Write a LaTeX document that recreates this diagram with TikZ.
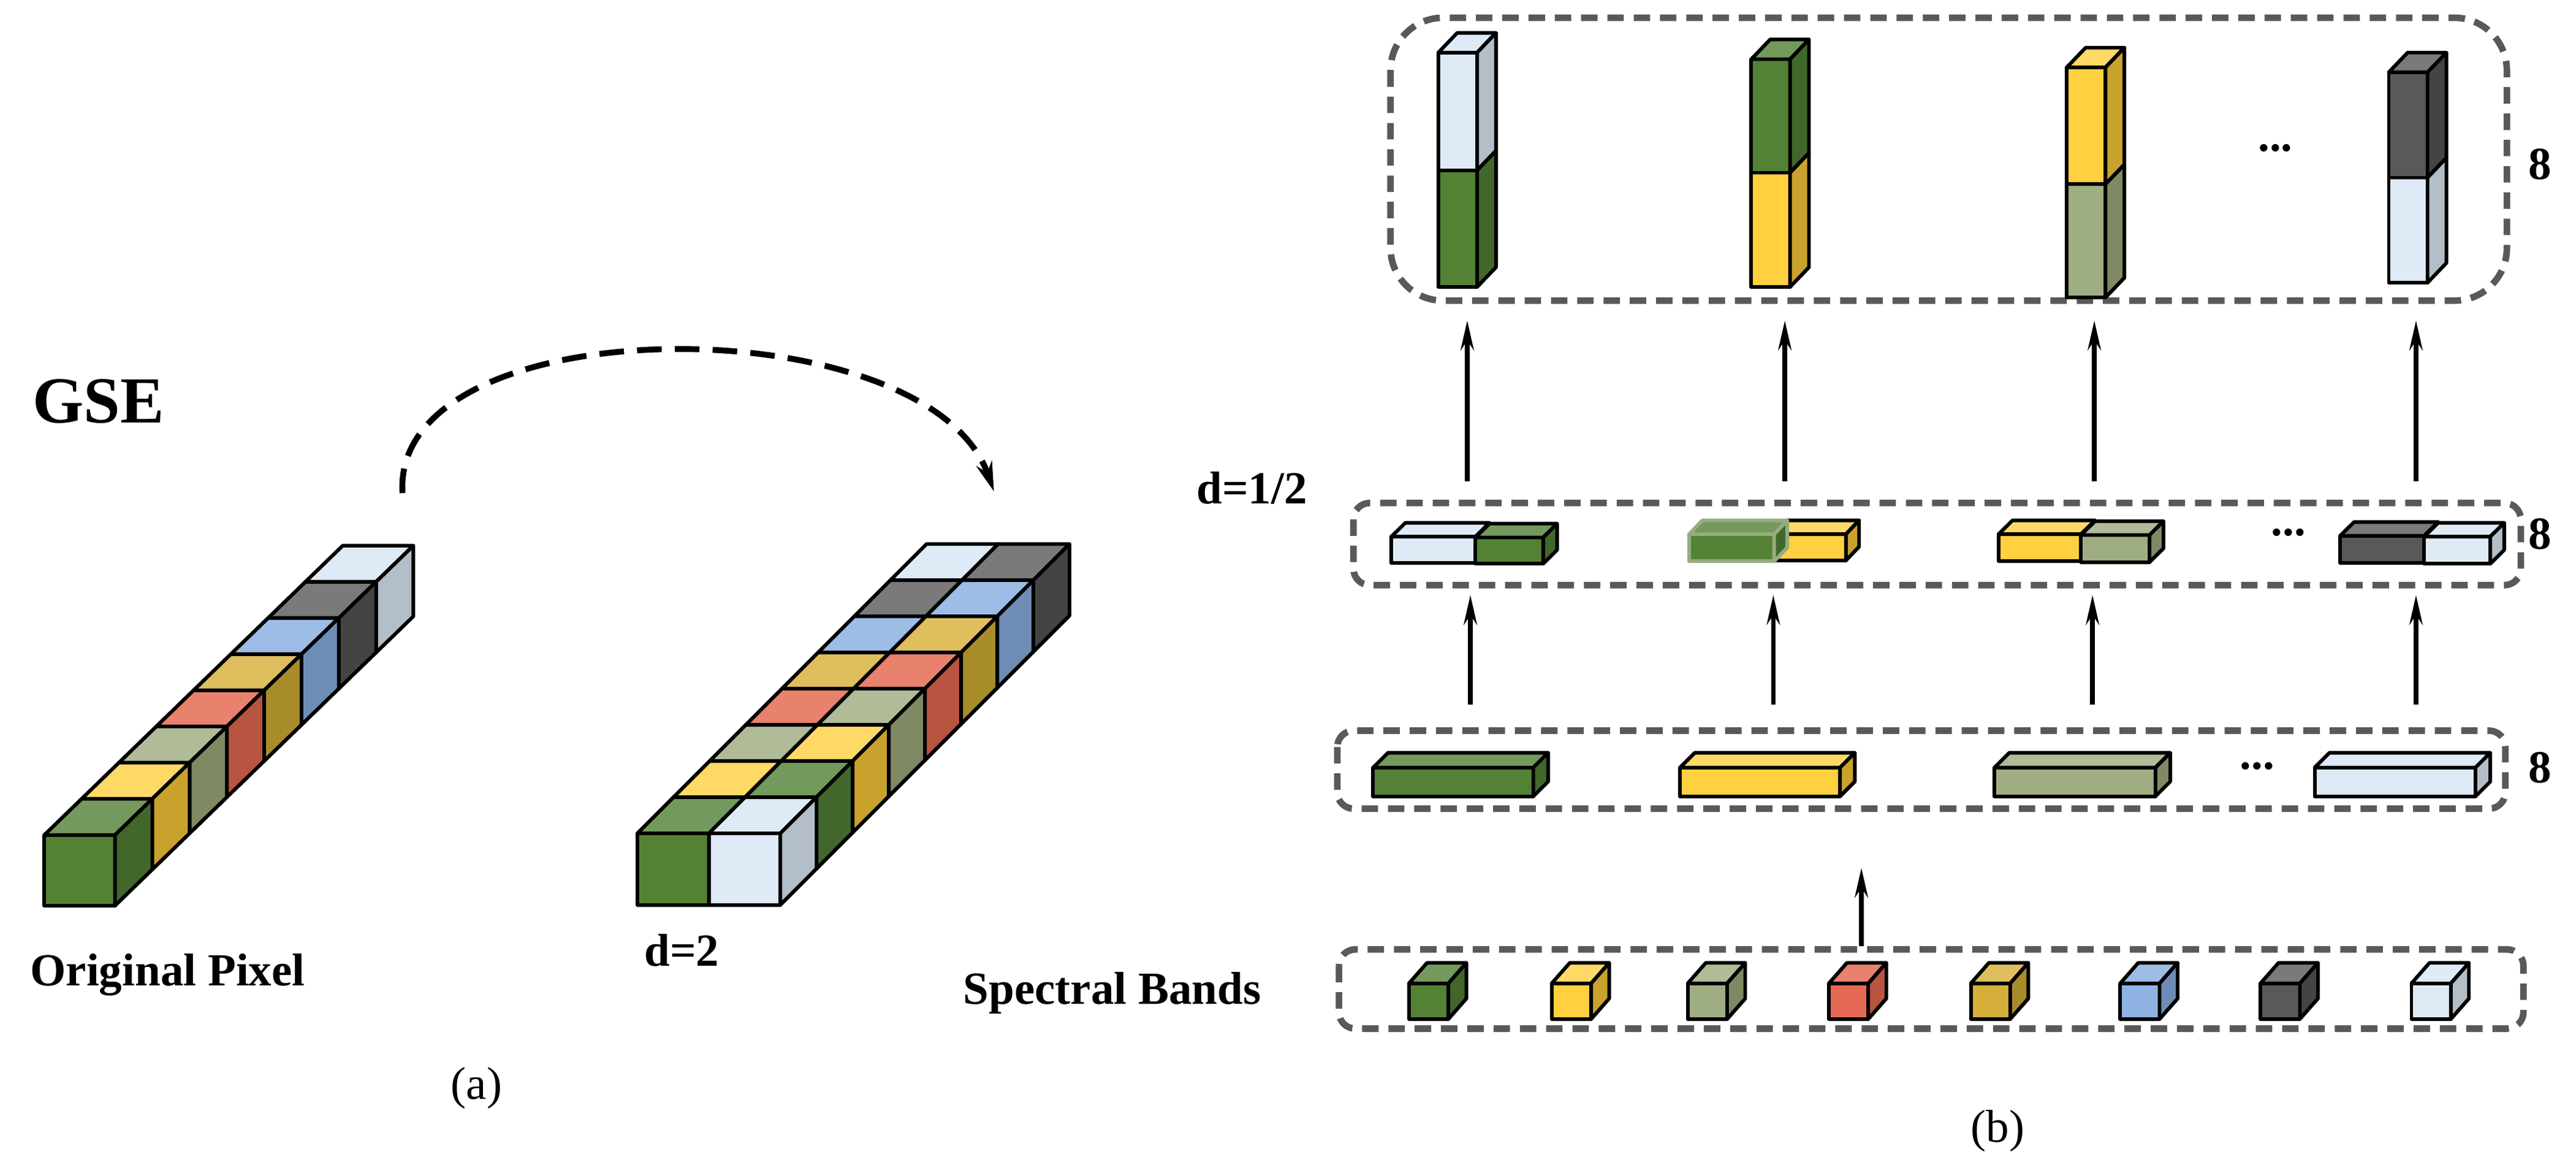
\documentclass[tikz,border=0pt]{standalone}
\usepackage{fontspec}
\setmainfont{Liberation Serif}
\usetikzlibrary{arrows.meta}
\definecolor{gF}{HTML}{548235}\definecolor{gT}{HTML}{739A5C}\definecolor{gS}{HTML}{41672A}
\definecolor{yF}{HTML}{FFD040}\definecolor{yT}{HTML}{FFD966}\definecolor{yS}{HTML}{C9A22E}
\definecolor{sF}{HTML}{9FAE82}\definecolor{sT}{HTML}{B0BC98}\definecolor{sS}{HTML}{7F8A64}
\definecolor{rF}{HTML}{E46A55}\definecolor{rT}{HTML}{E8826C}\definecolor{rS}{HTML}{B85440}
\definecolor{oF}{HTML}{D4B03A}\definecolor{oT}{HTML}{DFBE5E}\definecolor{oS}{HTML}{A88C2A}
\definecolor{bF}{HTML}{8FB3E3}\definecolor{bT}{HTML}{9DBDE6}\definecolor{bS}{HTML}{6E8DB5}
\definecolor{kF}{HTML}{595959}\definecolor{kT}{HTML}{7A7A7A}\definecolor{kS}{HTML}{444444}
\definecolor{lF}{HTML}{DEEBF7}\definecolor{lT}{HTML}{DEEBF7}\definecolor{lS}{HTML}{B4BEC8}
\definecolor{dashc}{HTML}{595959}
% x,y (front top-left), w, h, dx, dy, colour prefix
\newcommand\mycube[7]{%
  \filldraw[fill=#7F] (#1,#2) rectangle ++(#3,#4);
  \filldraw[fill=#7T] (#1,#2) -- ++(#5,-#6) -- ++(#3,0) -- ++(-#5,#6) -- cycle;
  \filldraw[fill=#7S] ({#1+#3},#2) -- ++(#5,-#6) -- ++(0,#4) -- ++(-#5,#6) -- cycle;}
\tikzset{
  cube/.style={line width=2.2pt,line join=round},
  grp/.style={draw=dashc,line width=4pt,dash pattern=on 10pt off 6pt},
  lab/.style={font=\bfseries\fontsize{28}{30}\selectfont,inner sep=0pt},
  up/.style={line width=2.8pt,-{Stealth[length=18pt,width=8pt]}},
}
\begin{document}
\begin{tikzpicture}[x=1pt,y=-1pt]
\useasboundingbox (0,0) rectangle (1568,706.6);
% ---------- (a) ----------
\node[lab,font=\bfseries\fontsize{40}{42}\selectfont] (gse) at (60,244) {GSE};
\begin{scope}[cube]
\foreach \k/\c in {7/l,6/k,5/b,4/o,3/r,2/s,1/y,0/g}{
  \mycube{27+22.7*\k}{508-22*\k}{43}{43}{22.7}{22}{\c}}
\foreach \k/\a/\b in {7/l/k,6/k/b,5/b/o,4/o/r,3/r/s,2/s/y,1/y/g,0/g/l}{
  \mycube{388+22*\k}{507-22*\k}{43.5}{43.5}{22}{22}{\a}
  \mycube{431.5+22*\k}{507-22*\k}{43.5}{43.5}{22}{22}{\b}}
\end{scope}
\coordinate (arcA) at (245,300);
\coordinate (arcB) at (605,299);
\draw[line width=3.6pt,dash pattern=on 15pt off 8pt,-{Stealth[length=18pt,width=10pt]}] (arcA) .. controls (238,185) and (565,185) .. (arcB);
\node[lab] (op) at (102,593) {Original Pixel};
\node[lab] (d2) at (415,578) {d=2};
\node[inner sep=0pt,font=\fontsize{28}{30}\selectfont] (la) at (290,662) {(a)};
% ---------- (b) ----------
\draw[grp,rounded corners=32pt] (846.4,10.8) rectangle (1525.9,182.9);
\draw[grp,rounded corners=10pt] (823.8,306) rectangle (1534.4,356);
\draw[grp,rounded corners=10pt] (814,444.5) rectangle (1525,492);
\draw[grp,rounded corners=10pt] (815,577.6) rectangle (1536,625.8);
\begin{scope}[cube]
% top columns (lower part first)
\mycube{875.5}{103.6}{23.6}{71}{11.5}{12}{g}\mycube{875.5}{32}{23.6}{71.6}{11.5}{12}{l}
\mycube{1066}{105}{23.6}{69.6}{11.5}{12}{y}\mycube{1066}{36}{23.6}{69}{11.5}{12}{g}
\mycube{1258}{112}{23.6}{69}{11.5}{12}{s}\mycube{1258}{41}{23.6}{71}{11.5}{12}{y}
\mycube{1454}{108}{23.6}{64}{11.5}{12}{l}\mycube{1454}{44}{23.6}{64}{11.5}{12}{k}
% middle pairs
\mycube{846.9}{326.5}{51.2}{16}{8.5}{8.4}{l}\mycube{898.1}{327}{41.2}{16}{8.5}{8.4}{g}
\mycube{1079.9}{325}{43.7}{16}{8}{8.4}{y}
\begin{scope}[draw={rgb,255:red,150;green,172;blue,125}]\mycube{1028.2}{325}{51.7}{16.5}{8}{8.4}{g}\end{scope}
\mycube{1216.5}{325}{50.2}{16.5}{8.5}{8.4}{y}\mycube{1266.7}{325.5}{41.7}{16.5}{8.5}{8.4}{s}
\mycube{1424.4}{326}{51.2}{16.5}{8.5}{8.4}{k}\mycube{1475.6}{326.5}{40.2}{16.5}{8.5}{8.4}{l}
% lower bars
\mycube{835.8}{467}{97.5}{17.5}{9}{9}{g}
\mycube{1022.6}{467}{97.4}{17.5}{9}{9}{y}
\mycube{1214}{467}{98}{17.5}{9}{9}{s}
\mycube{1408.9}{467}{97.9}{17.5}{9}{9}{l}
% spectral bands
\foreach \x/\c in {857.6/g,944.5/y,1027.3/s,1113.2/r,1199.6/o,1290.5/b,1375.9/k,1467.8/l}{
  \mycube{\x}{598.3}{24}{21.7}{11}{12.5}{\c}}
\end{scope}
% arrows
\foreach \i/\x in {1/893.1,2/1086.4,3/1274.8,4/1470.6}{
  \coordinate (ta\i) at (\x,293); \coordinate (ha\i) at (\x,195);
  \draw[up] (ta\i) -- (ha\i);}
\foreach \i/\x in {1/895,2/1079.4,3/1273.7,4/1470.6}{
  \coordinate (tb\i) at (\x,428.7); \coordinate (hb\i) at (\x,362);
  \draw[up] (tb\i) -- (hb\i);}
\coordinate (tc) at (1133,575.8); \coordinate (hc) at (1133,528);
\draw[up] (tc) -- (hc);
% texts
\node[lab] (e1) at (1546,100) {8};
\node[lab] (e2) at (1546,325) {8};
\node[lab] (e3) at (1546,467) {8};
\node[lab] (d12) at (762,297) {d=1/2};
\node[lab] (sb) at (677,604) {Spectral Bands};
\node[lab] (dt1) at (1385,90) {...};
\node[lab] (dt2) at (1393,324) {...};
\node[lab] (dt3) at (1374,466) {...};
\node[inner sep=0pt,font=\fontsize{28}{30}\selectfont] (lb) at (1216,688) {(b)};
\end{tikzpicture}
\end{document}
